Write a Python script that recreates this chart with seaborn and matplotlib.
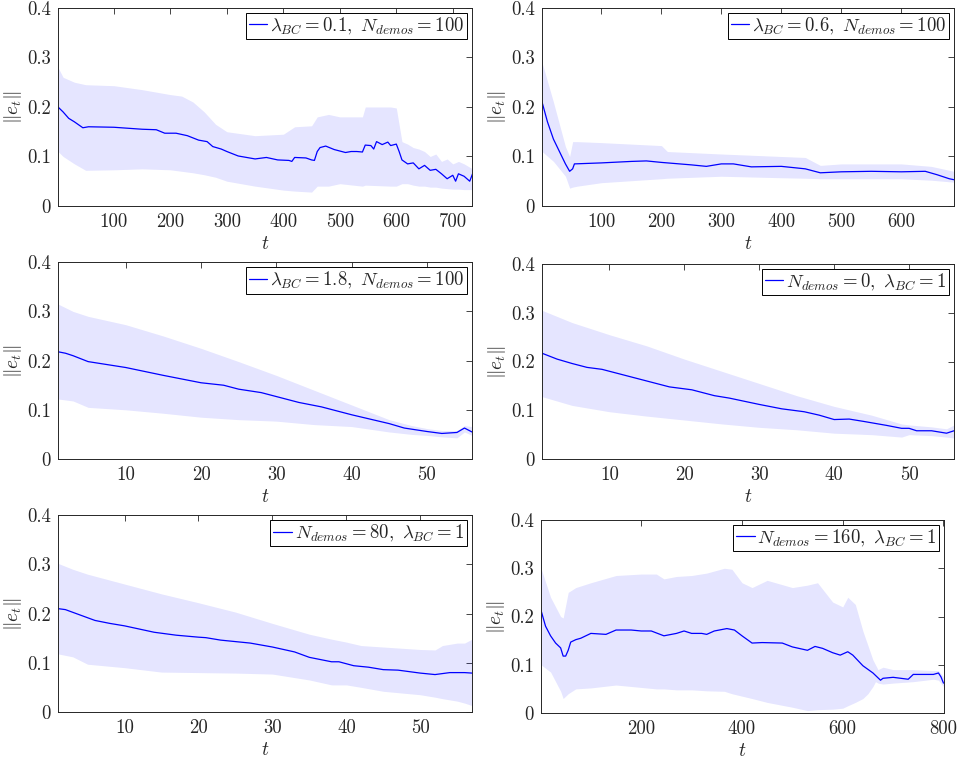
import matplotlib
matplotlib.use("Agg")
import matplotlib.pyplot as plt
import seaborn as sns
import pandas as pd

# ---- data (t, mean, lower band, upper band) ----

# panel 1: lambda_BC = 0.1, N_demos = 100
t1 = [1, 10, 20, 30, 45, 55, 100, 150, 175, 190, 210, 230, 250, 265, 275, 290, 300,
      320, 350, 370, 390, 410, 415, 420, 440, 450, 455, 460, 465, 475, 490, 510, 520,
      530, 540, 545, 555, 560, 565, 575, 585, 590, 600, 605, 610, 620, 630, 640, 650,
      660, 670, 680, 690, 700, 705, 710, 720, 730, 735]
m1 = [0.200, 0.190, 0.177, 0.170, 0.158, 0.160, 0.159, 0.155, 0.154, 0.147, 0.147, 0.142,
      0.133, 0.130, 0.120, 0.115, 0.110, 0.101, 0.095, 0.098, 0.093, 0.092, 0.090, 0.098,
      0.097, 0.093, 0.092, 0.110, 0.118, 0.121, 0.114, 0.108, 0.110, 0.110, 0.109, 0.123,
      0.122, 0.115, 0.130, 0.124, 0.129, 0.122, 0.125, 0.110, 0.093, 0.085, 0.087, 0.075,
      0.082, 0.072, 0.074, 0.065, 0.055, 0.062, 0.050, 0.065, 0.060, 0.050, 0.065]
bt1 = [1, 10, 30, 50, 100, 150, 200, 220, 240, 260, 280, 300, 350, 400, 420, 450, 460,
       480, 500, 540, 545, 590, 600, 610, 620, 630, 640, 650, 660, 670, 680, 690, 700,
       710, 720, 735]
lo1 = [0.110, 0.100, 0.085, 0.072, 0.073, 0.075, 0.073, 0.070, 0.067, 0.063, 0.058, 0.050,
       0.040, 0.032, 0.030, 0.028, 0.040, 0.040, 0.045, 0.040, 0.042, 0.040, 0.040, 0.045,
       0.045, 0.042, 0.040, 0.040, 0.038, 0.038, 0.036, 0.035, 0.034, 0.034, 0.033, 0.033]
hi1 = [0.280, 0.260, 0.250, 0.245, 0.243, 0.235, 0.225, 0.222, 0.210, 0.190, 0.165, 0.150,
       0.142, 0.145, 0.160, 0.162, 0.180, 0.185, 0.180, 0.180, 0.200, 0.200, 0.198, 0.130,
       0.125, 0.118, 0.115, 0.110, 0.100, 0.105, 0.090, 0.095, 0.085, 0.090, 0.085, 0.075]

# panel 2: lambda_BC = 0.6, N_demos = 100
t2 = [1, 10, 20, 30, 40, 47, 52, 55, 100, 150, 175, 200, 250, 275, 300, 320, 350, 400,
      440, 465, 500, 550, 600, 640, 660, 680, 688]
m2 = [0.210, 0.170, 0.135, 0.110, 0.085, 0.070, 0.075, 0.085, 0.087, 0.090, 0.091, 0.088,
      0.083, 0.080, 0.085, 0.085, 0.079, 0.080, 0.075, 0.067, 0.069, 0.070, 0.069, 0.070,
      0.063, 0.055, 0.053]
bt2 = [1, 20, 40, 47, 52, 60, 100, 200, 210, 300, 400, 440, 465, 500, 600, 650, 688]
lo2 = [0.110, 0.090, 0.060, 0.036, 0.038, 0.040, 0.047, 0.055, 0.056, 0.060, 0.057, 0.056,
       0.055, 0.055, 0.055, 0.052, 0.048]
hi2 = [0.290, 0.210, 0.120, 0.100, 0.130, 0.130, 0.128, 0.122, 0.110, 0.105, 0.100, 0.098,
       0.082, 0.085, 0.085, 0.080, 0.070]

# panel 3: lambda_BC = 1.8, N_demos = 100
t3 = [1, 2, 3, 5, 10, 15, 20, 23, 25, 28, 30, 33, 36, 40, 45, 47, 50, 52, 54, 55, 56]
m3 = [0.218, 0.215, 0.210, 0.198, 0.186, 0.170, 0.155, 0.150, 0.142, 0.135, 0.127, 0.115,
      0.106, 0.090, 0.072, 0.063, 0.056, 0.052, 0.054, 0.063, 0.055]
bt3 = [1, 3, 5, 10, 15, 20, 25, 30, 35, 40, 45, 48, 50, 52, 54, 55, 56]
lo3 = [0.122, 0.118, 0.105, 0.100, 0.093, 0.085, 0.080, 0.077, 0.070, 0.066, 0.055, 0.050,
       0.048, 0.045, 0.043, 0.055, 0.048]
hi3 = [0.315, 0.300, 0.290, 0.273, 0.250, 0.225, 0.198, 0.170, 0.140, 0.110, 0.080, 0.068,
       0.062, 0.058, 0.058, 0.068, 0.066]

# panel 4: N_demos = 0, lambda_BC = 1
t4 = [1, 3, 5, 7, 9, 12, 15, 18, 21, 24, 26, 30, 33, 36, 38, 40, 42, 44, 47, 49, 50, 51,
      53, 55, 56]
m4 = [0.217, 0.205, 0.196, 0.188, 0.184, 0.172, 0.160, 0.148, 0.142, 0.130, 0.125, 0.112,
      0.103, 0.097, 0.090, 0.081, 0.082, 0.077, 0.069, 0.063, 0.063, 0.058, 0.058, 0.053,
      0.058]
bt4 = [1, 5, 10, 15, 20, 25, 30, 35, 40, 45, 49, 50, 53, 55, 56]
lo4 = [0.128, 0.110, 0.097, 0.088, 0.080, 0.072, 0.065, 0.060, 0.053, 0.050, 0.045, 0.050,
       0.048, 0.045, 0.043]
hi4 = [0.305, 0.280, 0.255, 0.232, 0.205, 0.180, 0.155, 0.130, 0.108, 0.090, 0.072, 0.070,
       0.066, 0.062, 0.070]

# panel 5: N_demos = 80, lambda_BC = 1
t5 = [1, 2, 4, 6, 8, 10, 14, 15, 17, 20, 21, 23, 27, 30, 33, 35, 38, 39, 41, 43, 45, 47,
      50, 52, 54, 56, 57]
m5 = [0.210, 0.208, 0.197, 0.186, 0.180, 0.175, 0.162, 0.160, 0.156, 0.152, 0.151, 0.146,
      0.140, 0.132, 0.122, 0.111, 0.102, 0.102, 0.094, 0.091, 0.086, 0.085, 0.079, 0.076,
      0.080, 0.080, 0.079]
bt5 = [1, 3, 5, 10, 15, 20, 25, 30, 35, 38, 40, 42, 45, 50, 52, 53, 55, 56, 57]
lo5 = [0.118, 0.112, 0.097, 0.090, 0.081, 0.080, 0.079, 0.077, 0.065, 0.055, 0.055, 0.050,
       0.042, 0.035, 0.030, 0.027, 0.022, 0.018, 0.013]
hi5 = [0.302, 0.290, 0.280, 0.260, 0.240, 0.222, 0.203, 0.180, 0.158, 0.148, 0.142, 0.135,
       0.132, 0.127, 0.126, 0.135, 0.140, 0.140, 0.148]

# panel 6: N_demos = 160, lambda_BC = 1
t6 = [1, 10, 20, 30, 40, 45, 50, 55, 60, 70, 80, 100, 130, 150, 180, 200, 220, 245, 270,
      285, 300, 320, 330, 345, 370, 385, 400, 420, 440, 480, 500, 530, 545, 560, 580, 595,
      610, 620, 640, 660, 675, 680, 700, 730, 740, 760, 780, 790, 795, 800]
m6 = [0.213, 0.180, 0.160, 0.145, 0.135, 0.118, 0.118, 0.130, 0.147, 0.152, 0.155, 0.165,
      0.163, 0.172, 0.172, 0.170, 0.170, 0.160, 0.165, 0.170, 0.165, 0.165, 0.163, 0.170,
      0.175, 0.172, 0.160, 0.145, 0.146, 0.145, 0.137, 0.130, 0.138, 0.134, 0.125, 0.120,
      0.127, 0.120, 0.098, 0.083, 0.068, 0.072, 0.074, 0.070, 0.080, 0.080, 0.080, 0.083,
      0.075, 0.062]
bt6 = [1, 20, 40, 45, 55, 70, 100, 150, 200, 230, 245, 270, 300, 330, 365, 380, 400, 420,
       450, 500, 530, 550, 580, 600, 610, 625, 640, 650, 660, 665, 670, 680, 700, 740, 780,
       790, 800]
lo6 = [0.100, 0.085, 0.045, 0.030, 0.040, 0.050, 0.052, 0.058, 0.053, 0.050, 0.050, 0.048,
       0.048, 0.046, 0.045, 0.040, 0.035, 0.030, 0.022, 0.012, 0.005, 0.007, 0.008, 0.010,
       0.015, 0.022, 0.030, 0.040, 0.055, 0.065, 0.062, 0.060, 0.062, 0.065, 0.070, 0.068,
       0.055]
hi6 = [0.300, 0.240, 0.200, 0.197, 0.250, 0.260, 0.270, 0.285, 0.288, 0.288, 0.278, 0.283,
       0.285, 0.290, 0.300, 0.298, 0.270, 0.260, 0.275, 0.260, 0.265, 0.270, 0.230, 0.220,
       0.240, 0.225, 0.170, 0.140, 0.110, 0.100, 0.090, 0.095, 0.090, 0.090, 0.088, 0.088,
       0.075]

labels = [r"$\lambda_{BC} = 0.1,\ N_{demos} = 100$",
          r"$\lambda_{BC} = 0.6,\ N_{demos} = 100$",
          r"$\lambda_{BC} = 1.8,\ N_{demos} = 100$",
          r"$N_{demos} = 0,\ \lambda_{BC} = 1$",
          r"$N_{demos} = 80,\ \lambda_{BC} = 1$",
          r"$N_{demos} = 160,\ \lambda_{BC} = 1$"]
xmax = [734, 688, 56, 56, 57, 801]
xticks = [[100, 200, 300, 400, 500, 600, 700],
          [100, 200, 300, 400, 500, 600],
          [10, 20, 30, 40, 50],
          [10, 20, 30, 40, 50],
          [10, 20, 30, 40, 50],
          [200, 400, 600, 800]]
yticks = [0, 0.1, 0.2, 0.3, 0.4]
ytick_labels = ["0", "0.1", "0.2", "0.3", "0.4"]

series = [(t1, m1, bt1, lo1, hi1), (t2, m2, bt2, lo2, hi2), (t3, m3, bt3, lo3, hi3),
          (t4, m4, bt4, lo4, hi4), (t5, m5, bt5, lo5, hi5), (t6, m6, bt6, lo6, hi6)]

# axes rectangles in figure fractions (left, bottom, width, height)
rects = [(0.0606, 0.729, 0.4326, 0.2605), (0.5664, 0.729, 0.4305, 0.2605),
         (0.0606, 0.396, 0.4326, 0.2590), (0.5664, 0.396, 0.4305, 0.2566),
         (0.0606, 0.0632, 0.4326, 0.2590), (0.5653, 0.0618, 0.4211, 0.2540)]

sns.set_style("white")
plt.rcParams["font.family"] = ["serif"]
plt.rcParams["font.serif"] = ["cmr10", "DejaVu Serif"]
plt.rcParams["mathtext.fontset"] = "cm"
plt.rcParams["axes.unicode_minus"] = False

fig = plt.figure(figsize=(9.57, 7.6), dpi=100)

for i in range(6):
    t, m, bt, lo, hi = series[i]
    ax = fig.add_axes(rects[i])
    ax.fill_between(bt, lo, hi, color=(0.0, 0.0, 1.0), alpha=0.1, lw=0)
    df = pd.DataFrame({"t": t, "e": m})
    sns.lineplot(data=df, x="t", y="e", ax=ax, color="blue", lw=0.9, label=labels[i])

    ax.set_xlim(1, xmax[i])
    ax.set_ylim(0, 0.4)
    ax.set_xticks(xticks[i])
    ax.set_xticklabels([str(v) for v in xticks[i]])
    ax.set_yticks(yticks)
    ax.set_yticklabels(ytick_labels)
    ax.tick_params(direction="in", top=True, right=True, length=4, width=0.6,
                   labelsize=13.5, colors="#262626", pad=5)
    for s in ax.spines.values():
        s.set_linewidth(0.7)
        s.set_color("#262626")
    ax.set_xlabel(r"$t$", fontsize=14, color="#262626", labelpad=3)
    ax.set_ylabel(r"$\|e_t\|$", fontsize=14, color="#262626", labelpad=2)

    leg = ax.legend(loc="upper right", fontsize=13.5, handlelength=1.0, handletextpad=0.15,
                    borderpad=0.15, borderaxespad=0.25, fancybox=False, framealpha=1)
    leg.get_frame().set_edgecolor("black")
    leg.get_frame().set_linewidth(0.7)

fig.savefig("out.png", dpi=100)
